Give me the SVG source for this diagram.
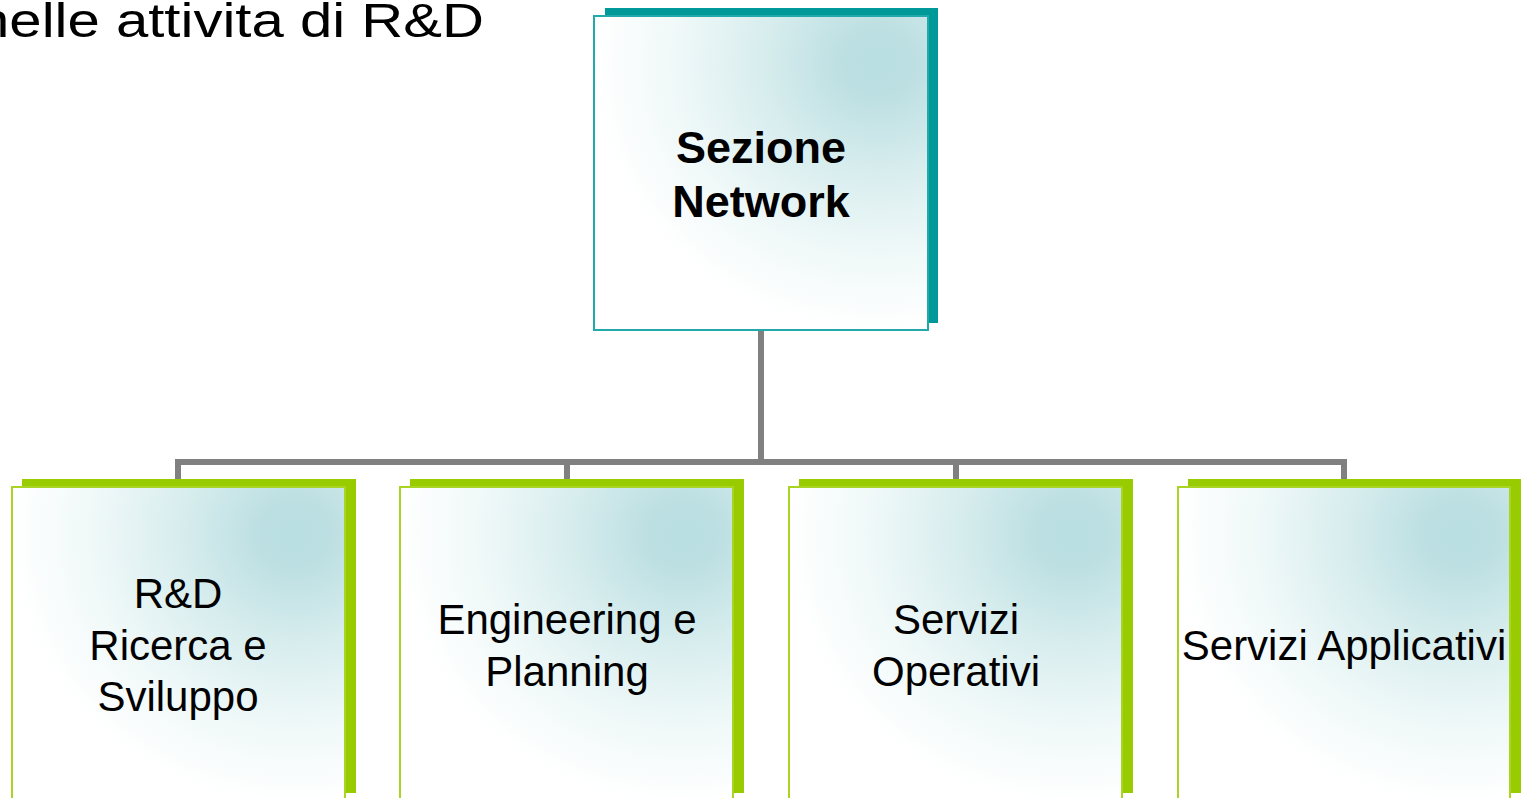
<svg xmlns="http://www.w3.org/2000/svg" width="1525" height="798" viewBox="0 0 1525 798">
<defs>
<radialGradient id="g" cx="0.85" cy="0.15" r="1" fx="0.85" fy="0.15">
<stop offset="0" stop-color="#b9dfe2"/>
<stop offset="0.1" stop-color="#bcdfe2"/>
<stop offset="0.35" stop-color="#d8edee"/>
<stop offset="0.6" stop-color="#eff8f8"/>
<stop offset="0.85" stop-color="#ffffff"/>
</radialGradient>
<style>
.shT{fill:#009999}
.shG{fill:#99cc00}
.frT{fill:url(#g);stroke:#22aaaa;stroke-width:2}
.frG{fill:url(#g);stroke:#aad422;stroke-width:2}
.t{font-family:"Liberation Sans",Arial,sans-serif;font-size:42px;fill:#000;text-anchor:middle}
.tb{font-family:"Liberation Sans",Arial,sans-serif;font-size:45px;font-weight:bold;fill:#000;text-anchor:middle}
.c{stroke:#808080;stroke-width:6;fill:none}
</style>
</defs>
<rect width="1525" height="798" fill="#ffffff"/>
<text x="-23" y="37" font-family="'Liberation Sans',Arial,sans-serif" font-size="48" fill="#000" textLength="507" lengthAdjust="spacingAndGlyphs">nelle attivita di R&amp;D</text>
<g id="connectors">
<path class="c" d="M761 330 V462"/>
<path class="c" d="M178 481 V462 H1344 V481"/>
<path class="c" d="M567 462 V481"/>
<path class="c" d="M956 462 V481"/>
</g>
<g id="node-top">
<rect class="shT" x="605" y="8" width="333" height="315"/>
<rect class="frT" x="594" y="16" width="334" height="314"/>
<text class="tb" x="761" y="163">Sezione</text>
<text class="tb" x="761" y="217">Network</text>
</g>
<g id="node-rd">
<rect class="shG" x="22" y="479" width="334" height="314"/>
<rect class="frG" x="12" y="487" width="333" height="316"/>
<text class="t" x="178" y="608">R&amp;D</text>
<text class="t" x="178" y="660">Ricerca e</text>
<text class="t" x="178" y="711">Sviluppo</text>
</g>
<g id="node-eng">
<rect class="shG" x="410" y="479" width="334" height="314"/>
<rect class="frG" x="400" y="487" width="333" height="316"/>
<text class="t" x="567" y="634">Engineering e</text>
<text class="t" x="567" y="686">Planning</text>
</g>
<g id="node-op">
<rect class="shG" x="799" y="479" width="334" height="314"/>
<rect class="frG" x="789" y="487" width="333" height="316"/>
<text class="t" x="956" y="634">Servizi</text>
<text class="t" x="956" y="686">Operativi</text>
</g>
<g id="node-app">
<rect class="shG" x="1188" y="479" width="333" height="314"/>
<rect class="frG" x="1178" y="487" width="332" height="316"/>
<text class="t" x="1344" y="660">Servizi Applicativi</text>
</g>
</svg>
